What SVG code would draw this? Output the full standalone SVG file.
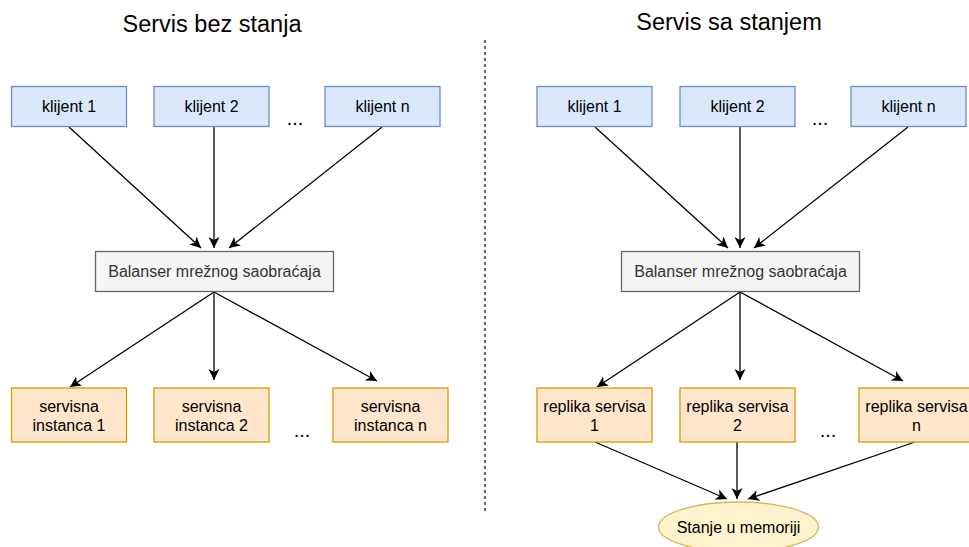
<svg xmlns="http://www.w3.org/2000/svg" width="969" height="547" viewBox="0 0 969 547">
<defs>
<marker id="arr" markerUnits="userSpaceOnUse" markerWidth="12" markerHeight="12" viewBox="0 0 12 12" refX="11" refY="6" orient="auto">
<path d="M0,0.5 L11,6 L0,11.5 L3,6 Z" fill="#000"/>
</marker>
<style>
text{font-family:"Liberation Sans",Arial,sans-serif;font-size:16px;fill:#000;text-anchor:middle}
.title{font-size:23.5px}
.blue{fill:#dae8fc;stroke:#6c8ebf;stroke-width:1.3}
.orange{fill:#ffe6cc;stroke:#d79b00;stroke-width:1.3}
.gray{fill:#f5f5f5;stroke:#666666;stroke-width:1.3}
.gt{fill:#333333}
.ell{fill:#fff2cc;stroke:#d6b656;stroke-width:1.3}
.edge{stroke:#000;stroke-width:1.3;fill:none;marker-end:url(#arr)}
.dots{font-size:20px}
</style>
</defs>
<rect width="969" height="547" fill="#fff"/>

<text class="title" x="212" y="32">Servis bez stanja</text>
<text class="title" x="729" y="30">Servis sa stanjem</text>
<line x1="485" y1="40" x2="485" y2="514" stroke="#000" stroke-width="1.2" stroke-dasharray="3,3"/>

<g id="connectors">
<line class="edge" x1="69" y1="127" x2="201" y2="248"/>
<line class="edge" x1="214" y1="127" x2="214" y2="248"/>
<line class="edge" x1="382" y1="127" x2="229" y2="248"/>
<line class="edge" x1="214" y1="292" x2="70" y2="387"/>
<line class="edge" x1="214" y1="292" x2="214" y2="380"/>
<line class="edge" x1="214" y1="292" x2="377" y2="381"/>

<line class="edge" x1="595" y1="127" x2="728" y2="248"/>
<line class="edge" x1="740" y1="127" x2="740" y2="248"/>
<line class="edge" x1="908" y1="127" x2="754" y2="248"/>
<line class="edge" x1="740" y1="292" x2="597" y2="387"/>
<line class="edge" x1="740" y1="292" x2="740" y2="380"/>
<line class="edge" x1="740" y1="292" x2="903" y2="381"/>

<line class="edge" x1="595" y1="442" x2="727" y2="499"/>
<line class="edge" x1="737" y1="442" x2="737" y2="499"/>
<line class="edge" x1="915" y1="442" x2="748" y2="499"/>
</g>

<g id="l-klijent1"><rect class="blue" x="11.5" y="86.5" width="115" height="40"/><text x="69" y="112">klijent 1</text></g>
<g id="l-klijent2"><rect class="blue" x="154" y="86.5" width="115" height="40"/><text x="211.5" y="112">klijent 2</text></g>
<g id="l-klijentn"><rect class="blue" x="325" y="86.5" width="115" height="40"/><text x="382.5" y="112">klijent n</text></g>
<text class="dots" x="295" y="125">...</text>

<g id="l-balanser"><rect class="gray" x="95.5" y="251.5" width="238" height="40"/><text class="gt" x="214.5" y="277">Balanser mrežnog saobraćaja</text></g>

<g id="l-inst1"><rect class="orange" x="11.5" y="388" width="115" height="54"/><text x="69" y="412">servisna</text><text x="69" y="430.5">instanca 1</text></g>
<g id="l-inst2"><rect class="orange" x="154" y="388" width="115" height="54"/><text x="211.5" y="412">servisna</text><text x="211.5" y="430.5">instanca 2</text></g>
<g id="l-instn"><rect class="orange" x="333" y="388" width="115" height="54"/><text x="390.5" y="412">servisna</text><text x="390.5" y="430.5">instanca n</text></g>
<text class="dots" x="302" y="437">...</text>

<g id="r-klijent1"><rect class="blue" x="537" y="86.5" width="115" height="40"/><text x="594.5" y="112">klijent 1</text></g>
<g id="r-klijent2"><rect class="blue" x="680" y="86.5" width="115" height="40"/><text x="737.5" y="112">klijent 2</text></g>
<g id="r-klijentn"><rect class="blue" x="851" y="86.5" width="115" height="40"/><text x="908.5" y="112">klijent n</text></g>
<text class="dots" x="820" y="125">...</text>

<g id="r-balanser"><rect class="gray" x="621.5" y="251.5" width="238" height="40"/><text class="gt" x="740.5" y="277">Balanser mrežnog saobraćaja</text></g>

<g id="r-rep1"><rect class="orange" x="537" y="388" width="115" height="54"/><text x="594.5" y="412">replika servisa</text><text x="594.5" y="430.5">1</text></g>
<g id="r-rep2"><rect class="orange" x="680" y="388" width="115" height="54"/><text x="737.5" y="412">replika servisa</text><text x="737.5" y="430.5">2</text></g>
<g id="r-repn"><rect class="orange" x="859" y="388" width="115" height="54"/><text x="916.5" y="412">replika servisa</text><text x="916.5" y="430.5">n</text></g>
<text class="dots" x="828" y="437">...</text>

<g id="r-stanje"><ellipse class="ell" cx="738.5" cy="527" rx="80" ry="25"/><text x="738.5" y="533">Stanje u memoriji</text></g>
</svg>
